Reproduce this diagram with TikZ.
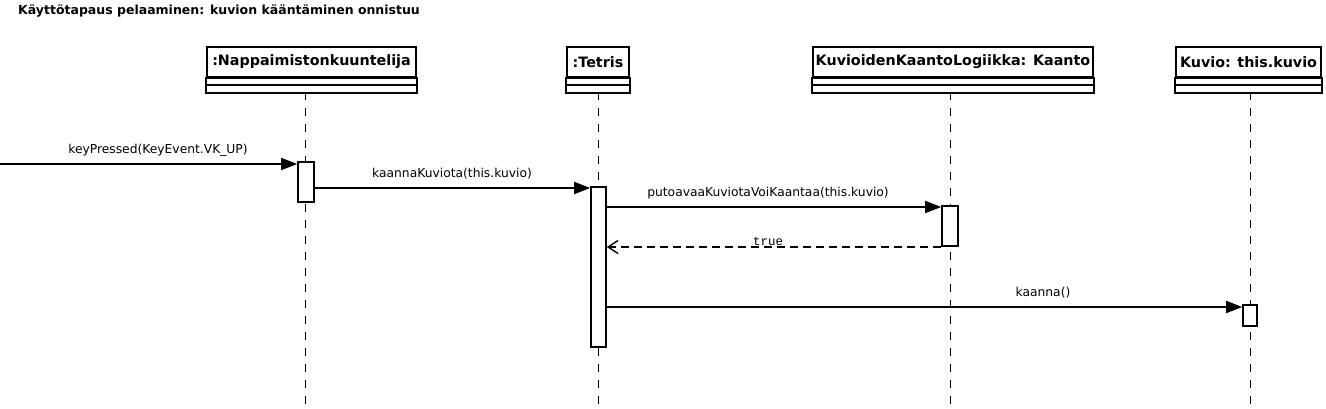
\documentclass[tikz,border=0pt]{standalone}
\usepackage{fontspec}
\setmainfont{DejaVu Sans}
\newfontfamily\monofont{Liberation Mono}
\usetikzlibrary{arrows.meta}
\begin{document}
\begin{tikzpicture}[x=1pt,y=-1pt,
  objbox/.style={draw,line width=1.6pt,fill=white,minimum height=30pt,inner sep=0pt,font=\bfseries\fontsize{14.3}{16}\selectfont},
  comp/.style={draw,line width=1.6pt,fill=white},
  lifeline/.style={line width=0.8pt,dash pattern=on 8pt off 8pt},
  actbox/.style={draw,line width=1.6pt,fill=white,inner sep=0pt},
  msg/.style={line width=1.6pt,-{Triangle[length=16pt,width=12pt]}},
  ret/.style={line width=1.6pt,dash pattern=on 8pt off 5pt,-{Straight Barb[length=10pt,width=13pt,line width=1.4pt]}},
  lbl/.style={font=\fontsize{12.3}{14}\selectfont,inner sep=0pt},
  title/.style={font=\bfseries\fontsize{12.5}{14}\selectfont,inner sep=0pt,anchor=west}
]
\useasboundingbox[fill=white] (0,0) rectangle (1326,409);
\node[title] (ttl) at (18,11) {Käyttötapaus pelaaminen: kuvion kääntäminen onnistuu};

% object boxes
\node[objbox,minimum width=209pt] (N) at (311.5,62) {:Nappaimistonkuuntelija};
\node[objbox,minimum width=62pt] (T) at (598,62) {:Tetris};
\node[objbox,minimum width=280pt] (K) at (953,62) {KuvioidenKaantoLogiikka: Kaanto};
\node[objbox,minimum width=145pt] (V) at (1248.5,62) {Kuvio: this.kuvio};
\foreach \b in {N,T,K,V}{
  \draw[comp] (\b.south west) rectangle ([yshift=-7pt]\b.south east);
  \draw[comp] ([yshift=-7pt]\b.south west) rectangle ([yshift=-15pt]\b.south east);
}

% lifelines
\coordinate (Ntop) at (305,92); \coordinate (Nbot) at (305,409);
\coordinate (Ttop) at (598,92); \coordinate (Tbot) at (598,409);
\coordinate (Ktop) at (950,92); \coordinate (Kbot) at (950,409);
\coordinate (Vtop) at (1250,92); \coordinate (Vbot) at (1250,409);
\draw[lifeline] (Ntop) -- (Nbot);
\draw[lifeline] (Ttop) -- (Tbot);
\draw[lifeline] (Ktop) -- (Kbot);
\draw[lifeline] (Vtop) -- (Vbot);

% activations
\node[actbox,minimum width=16pt,minimum height=40pt] (aN) at (306,182) {};
\node[actbox,minimum width=15pt,minimum height=160pt] (aT) at (598.5,267) {};
\node[actbox,minimum width=16pt,minimum height=40pt] (aK) at (950,226) {};
\node[actbox,minimum width=14pt,minimum height=21pt] (aV) at (1250,315.5) {};

% messages
\coordinate (start) at (0,164);
\draw[msg] (start) -- (start -| aN.west);
\node[lbl] (l1) at (158,150) {keyPressed(KeyEvent.VK\_UP)};

\coordinate (m2) at (314,188);
\draw[msg] (m2 -| aN.east) -- (m2 -| aT.west);
\node[lbl] (l2) at (452,174) {kaannaKuviota(this.kuvio)};

\coordinate (m3) at (606,207);
\draw[msg] (m3 -| aT.east) -- (m3 -| aK.west);
\node[lbl] (l3) at (768,193) {putoavaaKuviotaVoiKaantaa(this.kuvio)};

\coordinate (m4) at (606,247);
\draw[ret] (m4 -| aK.west) -- (m4 -| aT.east);
\node[lbl,font=\monofont\fontsize{12.5}{14}\selectfont] (l4) at (768,241) {true};

\coordinate (m5) at (606,307);
\draw[msg] (m5 -| aT.east) -- (m5 -| aV.west);
\node[lbl] (l5) at (1043,293) {kaanna()};
\end{tikzpicture}
\end{document}
